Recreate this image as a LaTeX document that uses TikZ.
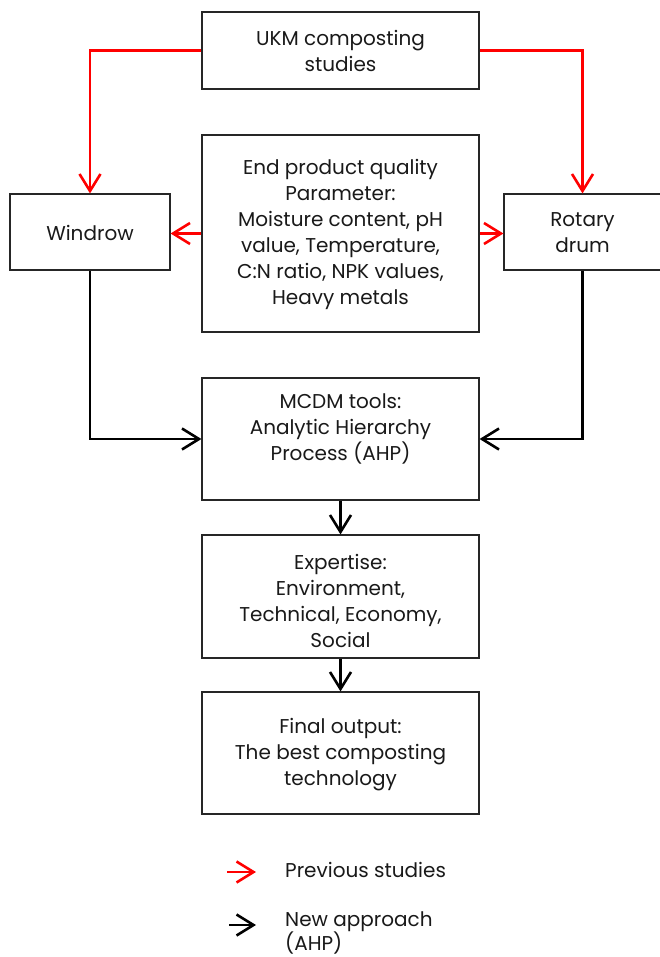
\documentclass[tikz,border=0pt]{standalone}
\usepackage{fontspec}
\setmainfont{Poppins}
\usetikzlibrary{arrows.meta}
\tikzset{
  box/.style={draw=black!85, line width=1.1pt, rectangle, inner sep=0pt},
  txt/.style={align=center, inner sep=0pt, font=\fontsize{20}{26}\selectfont, text=black!90},
  conn/.style={line width=2.6pt, -{Straight Barb[length=17pt,width=21pt,line width=2.6pt]}},
  redc/.style={conn, draw=red},
  blkc/.style={conn, draw=black},
}
\begin{document}
\begin{tikzpicture}[x=1pt,y=-1pt]
\useasboundingbox (0,0) rectangle (660,957);
% boxes
\node[box, minimum width=277pt, minimum height=77pt] (ukm) at (340.5,50.5) {};
\node[txt] (ukmt) at (340.5,51) {UKM composting\\studies};
\node[box, minimum width=277pt, minimum height=197pt] (endp) at (340.5,233.5) {};
\node[txt] (endt) at (340.5,234) {End product quality\\Parameter:\\Moisture content, pH\\value, Temperature,\\C:N ratio, NPK values,\\Heavy metals};
\node[box, minimum width=160pt, minimum height=76pt] (win) at (90,232) {};
\node[txt] (wint) at (90,233) {Windrow};
\node[box, minimum width=157pt, minimum height=76pt] (rot) at (582.5,232) {};
\node[txt] (rott) at (582.5,233) {Rotary\\drum};
\node[box, minimum width=277pt, minimum height=122pt] (mcdm) at (340.5,439) {};
\node[txt] (mcdmt) at (340.5,429) {MCDM tools:\\Analytic Hierarchy\\Process (AHP)};
\node[box, minimum width=277pt, minimum height=123pt] (exp) at (340.5,596.5) {};
\node[txt] (expt) at (340.5,601) {Expertise:\\Environment,\\Technical, Economy,\\Social};
\node[box, minimum width=277pt, minimum height=122pt] (fin) at (340.5,753) {};
\node[txt] (fint) at (340.5,755) {Final output:\\The best composting\\technology};
% red connectors
\draw[redc] (ukm.west) -| (win.north);
\draw[redc] (ukm.east) -| (rot.north);
\draw[redc] (endp.west) -- (endp.west -| win.east);
\draw[redc] (endp.east) -- (endp.east -| rot.west);
% black connectors
\draw[blkc] (win.south) |- (mcdm.west);
\draw[blkc] (rot.south) |- (mcdm.east);
\draw[blkc] (mcdm.south) -- (exp.north);
\draw[blkc] (exp.south) -- (fin.north);
% legend
\coordinate (la1) at (227,872);
\coordinate (la2) at (256,872);
\coordinate (lb1) at (229,925);
\coordinate (lb2) at (256,925);
\draw[redc, line width=2.2pt] (la1) -- (la2);
\draw[blkc, line width=2.2pt] (lb1) -- (lb2);
\node[txt, anchor=west] (l1) at (285,870) {Previous studies};
\node[txt, anchor=north west, align=left, font=\fontsize{20}{24}\selectfont] (l2) at (285,911) {New approach\\(AHP)};
\end{tikzpicture}
\end{document}
